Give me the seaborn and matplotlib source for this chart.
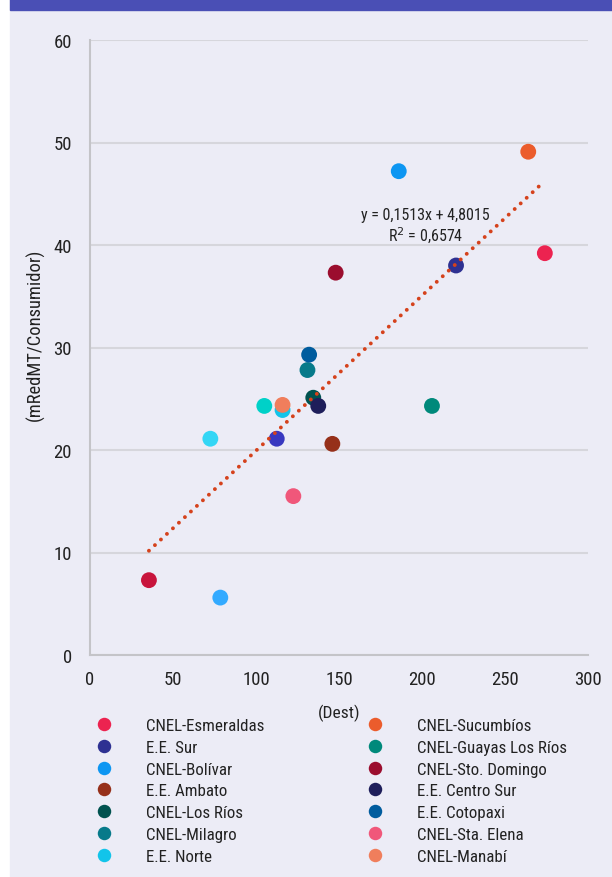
import matplotlib
matplotlib.use("Agg")
import matplotlib.pyplot as plt
from matplotlib import font_manager
import seaborn as sns
import pandas as pd
import numpy as np
from matplotlib.patches import Rectangle

# named companies (shown in the legend)
companies = ["CNEL-Esmeraldas", "E.E. Sur", "CNEL-Bolívar", "E.E. Ambato",
             "CNEL-Los Ríos", "CNEL-Milagro", "E.E. Norte",
             "CNEL-Sucumbíos", "CNEL-Guayas Los Ríos", "CNEL-Sto. Domingo",
             "E.E. Centro Sur", "E.E. Cotopaxi", "CNEL-Sta. Elena", "CNEL-Manabí"]
dest = [274, 220.5, 186, 146, 134.5, 131, 116, 264, 206, 148, 137.5, 132, 122.5, 116]
red_mt = [39.2, 38.0, 47.2, 20.6, 25.1, 27.8, 23.9, 49.1, 24.3, 37.3, 24.3, 29.3, 15.5, 24.4]
colors = ["#EC2350", "#2E3192", "#0D96F2", "#96301A", "#00524F", "#077A8A", "#12C4EA",
          "#EB5C2C", "#00897B", "#9B0D2E", "#1E1E5A", "#005C9E", "#F0577A", "#F07E5C"]

# extra points without legend entry
extra_dest = [35.5, 78.5, 72.5, 105, 112.5]
extra_red = [7.3, 5.6, 21.1, 24.3, 21.1]
extra_colors = ["#C8143C", "#33AAFF", "#33D6F5", "#00D1C8", "#3838C0"]

# trend line
slope = 0.1513
intercept = 4.8015

df = pd.DataFrame({"Dest": dest, "RedMT": red_mt, "Empresa": companies})
extra = pd.DataFrame({"Dest": extra_dest, "RedMT": extra_red, "c": extra_colors})

sns.set_theme(style="white")

# pick a narrow font if there is one
installed = {f.name for f in font_manager.fontManager.ttflist}
narrow = [f.name for f in font_manager.fontManager.ttflist
          if f.stretch in ("condensed", "semi-condensed", "extra-condensed", 75, 87.5)]
prefs = ["Roboto Condensed", "Liberation Sans Narrow", "Open Sans Condensed"] + narrow + ["Liberation Sans"]
font = next(p for p in prefs if p in installed)
plt.rcParams["font.family"] = [font, "DejaVu Sans"]
fs = 12.2

bg = "#ECECF6"
txt = "#222222"
fig = plt.figure(figsize=(6.12, 8.78), dpi=100, facecolor="white")
fig.patches.append(Rectangle((10 / 612, 0), 1, 1, transform=fig.transFigure,
                             color=bg, zorder=-2))
fig.patches.append(Rectangle((10 / 612, 1 - 11 / 878), 1, 11 / 878,
                             transform=fig.transFigure, color="#4A4FB5", zorder=-1))

ax = fig.add_axes([90 / 612, 1 - 656 / 878, 498 / 612, 615 / 878])
ax.set_facecolor(bg)

# trend line
xs = np.array([min(dest + extra_dest), max(dest + extra_dest) - 2])
ax.plot(xs, slope * xs + intercept, color="#D5421C", lw=2.8,
        linestyle=(0, (0.01, 2.1)), dash_capstyle="round", zorder=3)

ax.scatter(extra["Dest"], extra["RedMT"], c=extra["c"], s=130, linewidths=0, zorder=2)
sns.scatterplot(data=df, x="Dest", y="RedMT", hue="Empresa", palette=colors,
                s=130, linewidth=0, ax=ax, zorder=2)

ax.text(202, 41.85, "y = 0,1513x + 4,8015\nR$^2$ = 0,6574",
        ha="center", va="center", fontsize=11.5, color=txt, linespacing=1.2)

ax.set_xlim(0, 300)
ax.set_ylim(0, 60)
ax.set_xticks(range(0, 301, 50))
ax.set_yticks(range(0, 61, 10))
ax.grid(axis="y", color="#D6D6DC", lw=1.5)
ax.set_axisbelow(True)
for s in ["top", "right"]:
    ax.spines[s].set_visible(False)
for s in ["left", "bottom"]:
    ax.spines[s].set_color("#C4C4C8")
    ax.spines[s].set_linewidth(1.5)
ax.tick_params(axis="y", length=0, pad=13, labelsize=13.5, labelcolor=txt)
ax.tick_params(axis="x", length=0, pad=11, labelsize=13.5, labelcolor=txt)
ax.set_xlabel("(Dest)", fontsize=12.5, color=txt, labelpad=11)
ax.set_ylabel("(mRedMT/Consumidor)", fontsize=13.3, color=txt)
ax.yaxis.set_label_coords(-0.09, 0.523)

handles, labels = ax.get_legend_handles_labels()
ax.get_legend().remove()
opts = dict(loc="upper left", frameon=False, fontsize=fs, handlelength=1.0,
            handletextpad=1.95, labelspacing=0.4, borderpad=0, borderaxespad=0,
            markerscale=0.85, labelcolor=txt)
leg1 = fig.legend(handles[:7], labels[:7], bbox_to_anchor=((104 - 8) / 612, 1 - 719 / 878), **opts)
leg2 = fig.legend(handles[7:], labels[7:], bbox_to_anchor=((375 - 8) / 612, 1 - 719 / 878), **opts)

fig.savefig("out.png", dpi=100, facecolor=fig.get_facecolor())
